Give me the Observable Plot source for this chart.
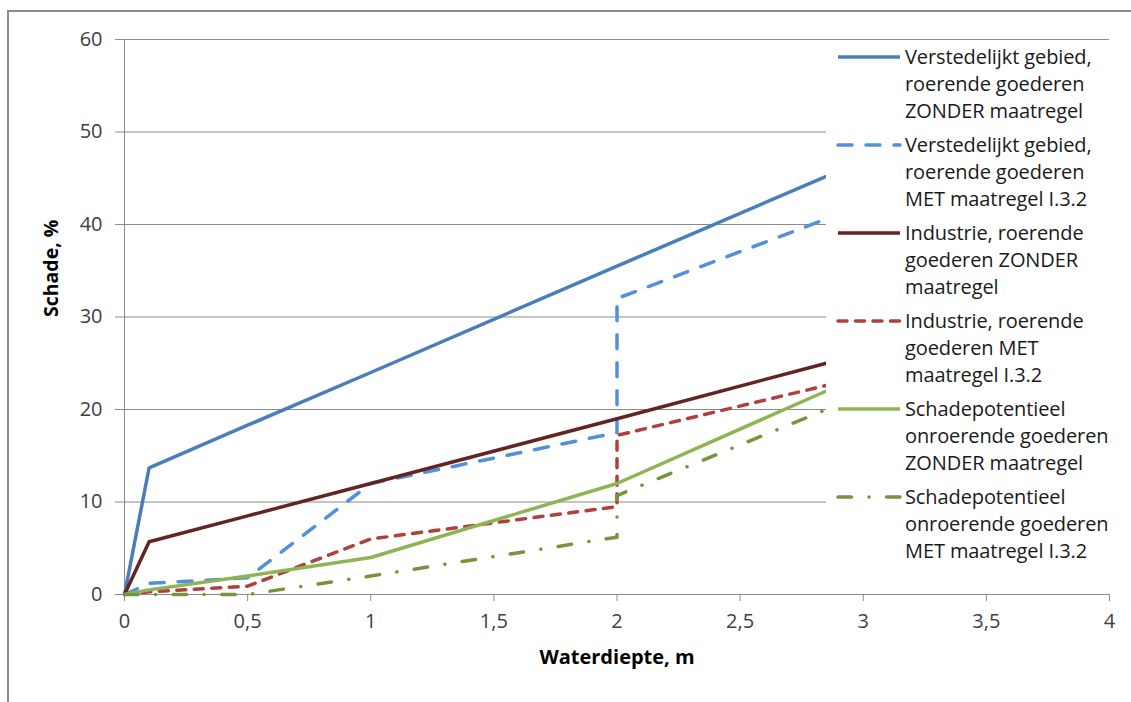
<!DOCTYPE html>
<html><head><meta charset="utf-8">
<script src="https://cdn.jsdelivr.net/npm/d3@7"></script>
<script src="https://cdn.jsdelivr.net/npm/@observablehq/plot@0.6"></script>
<style>
body{margin:0;background:#fff;}
#wrap{position:relative;width:1131px;height:702px;overflow:hidden;font-family:"Open Sans",sans-serif;}
#frame{position:absolute;left:7px;top:10px;width:1400px;height:1000px;border:2px solid #8c8c8c;box-sizing:border-box;}
#chart{position:absolute;left:0;top:0;}
#legend{position:absolute;left:826px;top:43px;width:305px;height:535px;background:#fff;}
.item{position:absolute;left:10px;display:flex;align-items:flex-start;}
.item svg{flex:none;margin-top:0px;}
.item span{white-space:pre-line;font-size:20px;line-height:27px;color:#1a1a1a;margin-left:3px;letter-spacing:-0.1px;}
</style></head>
<body><div id="wrap"><div id="frame"></div><div id="chart"></div><div id="legend"></div></div>
<script>
// ---- data ----
const seriesNames = [
  "Verstedelijkt gebied,\nroerende goederen\nZONDER maatregel",
  "Verstedelijkt gebied,\nroerende goederen\nMET maatregel I.3.2",
  "Industrie, roerende\ngoederen ZONDER\nmaatregel",
  "Industrie, roerende\ngoederen MET\nmaatregel I.3.2",
  "Schadepotentieel\nonroerende goederen\nZONDER maatregel",
  "Schadepotentieel\nonroerende goederen\nMET maatregel I.3.2"
];
const xVerstZonder = [0, 0.1, 0.5, 1, 2, 2.85];
const yVerstZonder = [0, 13.7, 18.3, 24.0, 35.5, 45.2];
const xVerstMet = [0, 0.1, 0.5, 1, 2, 2, 2.85];
const yVerstMet = [0, 1.2, 1.8, 12, 17.5, 32, 40.6];
const xIndZonder = [0, 0.1, 0.5, 1, 2, 2.85];
const yIndZonder = [0, 5.7, 8.5, 12, 19, 25];
const xIndMet = [0, 0.1, 0.5, 1, 2, 2, 2.85];
const yIndMet = [0, 0.3, 0.9, 6, 9.5, 17.2, 22.6];
const xSchZonder = [0, 0.1, 0.5, 1, 2, 2.85];
const ySchZonder = [0, 0.5, 2, 4, 12, 22];
const xSchMet = [0, 0.1, 0.5, 1, 2, 2, 2.85];
const ySchMet = [0, 0, 0, 2, 6.2, 10.7, 20];
const xTicks = [0, 0.5, 1, 1.5, 2, 2.5, 3, 3.5, 4];
const yTicks = [0, 10, 20, 30, 40, 50, 60];
const xTitle = "Waterdiepte, m";
const yTitle = "Schade, %";

// ---- styles ----
const xs = [xVerstZonder, xVerstMet, xIndZonder, xIndMet, xSchZonder, xSchMet];
const ys = [yVerstZonder, yVerstMet, yIndZonder, yIndMet, ySchZonder, ySchMet];
const colors = ["#4a7ebb", "#5290dc", "#632523", "#b0403d", "#8db553", "#77933c"];
const dashes = [null, "14 14", null, "9 8.5", null, "13.5 17.5 0.1 17.5"];
const SW = 3.5;

const lineMarks = xs.map((xa, i) => Plot.line(xa.map((x, j) => ({x, y: ys[i][j]})), {
  x: "x", y: "y", stroke: colors[i], strokeWidth: SW,
  strokeDasharray: dashes[i] || undefined,
  strokeLinecap: dashes[i] ? "round" : "butt", strokeLinejoin: "round"
}));

const chart = Plot.plot({
  width: 1131, height: 702,
  marginLeft: 124, marginRight: 22, marginTop: 39, marginBottom: 108,
  style: {fontFamily: "'Open Sans', sans-serif", fontSize: "20px", color: "#404040", background: "transparent"},
  x: {domain: [0, 4]},
  y: {domain: [0, 60]},
  marks: [
    Plot.gridY(yTicks, {stroke: "#8a8a8a", strokeOpacity: 1, strokeWidth: 1}),
    Plot.ruleX([0], {stroke: "#8a8a8a"}),
    Plot.ruleY([0], {stroke: "#8a8a8a"}),
    Plot.axisY({ticks: yTicks, tickSize: 9, tickPadding: 13, label: null, stroke: "#8a8a8a", fill: "#404040"}),
    Plot.axisX({ticks: xTicks, tickSize: 7, tickPadding: 12, label: null, stroke: "#8a8a8a", fill: "#404040",
      tickFormat: d => String(d).replace(".", ",")}),
    ...lineMarks,
    Plot.text([yTitle], {frameAnchor: "left", dx: -73, rotate: -90, fontWeight: "bold", fontSize: 19.5, fill: "#000"}),
    Plot.text([xTitle], {frameAnchor: "bottom", dy: 69, fontWeight: "bold", fontSize: 20, fill: "#000"})
  ]
});
document.getElementById("chart").appendChild(chart);

// ---- legend ----
const legend = document.getElementById("legend");
seriesNames.forEach((name, i) => {
  const item = document.createElement("div");
  item.className = "item";
  item.style.top = (i * 88) + "px";
  const ns = "http://www.w3.org/2000/svg";
  const svg = document.createElementNS(ns, "svg");
  svg.setAttribute("width", 66); svg.setAttribute("height", 27);
  const ln = document.createElementNS(ns, "line");
  ln.setAttribute("x1", 2); ln.setAttribute("x2", 64);
  ln.setAttribute("y1", 14); ln.setAttribute("y2", 14);
  ln.setAttribute("stroke", colors[i]); ln.setAttribute("stroke-width", SW);
  if (dashes[i]) { ln.setAttribute("stroke-dasharray", dashes[i]); ln.setAttribute("stroke-linecap", "round"); }
  svg.appendChild(ln);
  const span = document.createElement("span");
  span.textContent = name;
  item.appendChild(svg); item.appendChild(span);
  legend.appendChild(item);
});
</script>
</body></html>
